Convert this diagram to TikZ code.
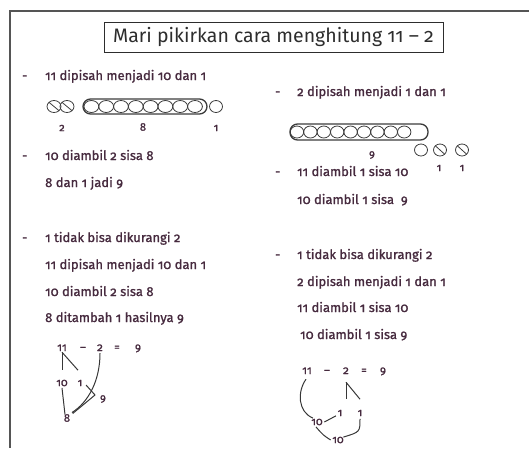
\documentclass[tikz,border=0pt]{standalone}
\usepackage{fontspec}
\setmainfont[Numbers=OldStyle]{Fira Sans}
\newfontfamily\bodyfont[Numbers=OldStyle, FakeBold=1.2]{Fira Sans}
\usetikzlibrary{calc,shapes.geometric}
\definecolor{txtc}{RGB}{70,42,62}
\definecolor{titc}{RGB}{45,45,45}
\definecolor{linec}{RGB}{55,55,55}
\definecolor{beadc}{RGB}{60,60,60}
\definecolor{framec}{RGB}{85,85,85}
\tikzset{
  txt/.style={anchor=base west, inner sep=0pt, font=\bodyfont\fontsize{13}{15}\selectfont, text=txtc},
  eqn/.style={anchor=base, inner sep=1pt, font=\bodyfont\fontsize{11.5}{13}\selectfont, text=txtc},
  num/.style={inner sep=0.5pt, font=\bodyfont\fontsize{11}{13}\selectfont, text=txtc},
  bead/.style={ellipse, draw=beadc, line width=0.8pt, minimum width=#1, minimum height=12pt, inner sep=0pt},
  bead/.default=14pt,
  xbead/.style={bead=#1, path picture={\draw[beadc, line width=0.8pt] ([xshift=1pt,yshift=-1pt]path picture bounding box.north west) -- ([xshift=-1pt,yshift=1pt]path picture bounding box.south east);}},
  xbead/.default=13pt,
  capsule/.style={rounded corners=7.5pt, draw=beadc, line width=1.3pt, inner sep=0pt},
  link/.style={draw=linec, line width=1pt},
}
\begin{document}
\begin{tikzpicture}[x=1pt,y=-1pt]
\useasboundingbox (0,0) rectangle (529,448);
% frame
\draw[framec, line width=1.6pt] (529,11) -- (10,11) -- (10,448);
% title
\node[draw=titc, line width=0.8pt, minimum width=339pt, minimum height=30pt, inner sep=0pt,
      font=\fontsize{19.5}{22}\selectfont, text=titc] (title) at (273.5,37) {Mari pikirkan cara menghitung 11 – 2};

% ---------- left column ----------
\node[txt] (d1) at (22,80) {-};
\node[txt] (t1) at (45,80) {11 dipisah menjadi 10 dan 1};
% beads
\node[xbead=14pt] (xa) at (54,106.5) {};
\node[xbead=14pt] (xb) at (67,106.5) {};
\draw[capsule] (83,99) rectangle (207,114);
\foreach \i in {0,...,7}{
  \node[bead=14.8pt] (lb\i) at ({91.4+14.8*\i},106.5) {};
}
\node[bead=13pt] (ls) at (216,106.5) {};
\node[num] (n2) at (62,128) {2};
\node[num] (n8) at (143,127) {8};
\node[num] (n1) at (216,128) {1};

\node[txt] (d2) at (22,160) {-};
\node[txt] (t2) at (45,160) {10 diambil 2 sisa 8};
\node[txt] (t3) at (45,187) {8 dan 1 jadi 9};
\node[txt] (d3) at (22,242) {-};
\node[txt] (t4) at (45,242) {1 tidak bisa dikurangi 2};
\node[txt] (t5) at (45,269) {11 dipisah menjadi 10 dan 1};
\node[txt] (t6) at (45,296) {10 diambil 2 sisa 8};
\node[txt] (t7) at (45,322) {8 ditambah 1 hasilnya 9};

% left equation
\node[eqn] (l11) at (62,351) {11};
\node[eqn] (lmin) at (83,351) {–};
\node[eqn] (l2) at (100,351) {2};
\node[eqn] (leq) at (117,351) {=};
\node[eqn] (l9) at (138,351) {9};
\node[num] (l10) at (62,383) {10};
\node[num] (l1) at (80,383) {1};
\node[num] (l8) at (67,418) {8};
\node[num] (l9b) at (103,399) {9};
\coordinate (lj) at (95,395);
\draw[link] (l11.south) -- ++(0,18);
\draw[link] (l11.south) -- ++(16,18);
\draw[link] ($(l10.south)+(0,1)$) -- ($(l8.north)+(-2,1)$);
\draw[link] ($(l2.south)+(0,1)$) .. controls ++(0,28) and ++(16,-10) .. ($(l8.north)+(5,-1)$);
\draw[link] ($(l1.east)+(3,2)$) -- (lj) -- ($(l8.north east)+(2,0)$);

% ---------- right column ----------
\node[txt] (d4) at (275,96) {-};
\node[txt] (t8) at (297,96) {2 dipisah menjadi 1 dan 1};
\draw[capsule] (290,124) rectangle (428,140);
\foreach \i in {0,...,8}{
  \node[bead=13.4pt] (rb\i) at ({297+13.4*\i},132) {};
}
\node[bead=13pt] (ro) at (421,150) {};
\node[xbead=13pt] (rxa) at (440,150) {};
\node[xbead=13pt] (rxb) at (462,150) {};
\node[num] (n9) at (372,155) {9};
\node[num] (n1a) at (439,168) {1};
\node[num] (n1b) at (462,168) {1};

\node[txt] (d5) at (275,176) {-};
\node[txt] (t9) at (297,176) {11 diambil 1 sisa 10};
\node[txt] (t10) at (297,204) {10 diambil 1 sisa \ 9};
\node[txt] (d6) at (275,259) {-};
\node[txt] (t11) at (297,259) {1 tidak bisa dikurangi 2};
\node[txt] (t12) at (297,286) {2 dipisah menjadi 1 dan 1};
\node[txt] (t13) at (297,312) {11 diambil 1 sisa 10};
\node[txt] (t14) at (300,339) {10 diambil 1 sisa 9};

% right equation
\node[eqn] (r11) at (307,374) {11};
\node[eqn] (rmin) at (327,374) {–};
\node[eqn] (r2) at (346,374) {2};
\node[eqn] (req) at (364,374) {=};
\node[eqn] (r9) at (383,374) {9};
\node[num] (r10a) at (317,422) {10};
\node[num] (r1a) at (340,413) {1};
\node[num] (r1b) at (360,413) {1};
\node[num] (r10b) at (338,440) {10};
\draw[link] ($(r2.south)+(0,7)$) -- ++(0,17);
\draw[link] ($(r2.south)+(0,7)$) -- ++(14,17);
\draw[link] ($(r11.south)+(-1,4)$) .. controls (297,392) and (298,412) .. ($(r10a.north)+(-4,0)$);
\draw[link] ($(r10a.east)+(1,0)$) .. controls (330,419) .. ($(r1a.south west)+(-1,-1)$);
\draw[link] ($(r1b.south)+(0,2)$) .. controls (360,432) .. ($(r10b.north east)+(-1,1)$);
\draw[link] ($(r10a.south)+(-1,1)$) .. controls (323,435) .. ($(r10b.west)+(-1,0)$);
\end{tikzpicture}
\end{document}
